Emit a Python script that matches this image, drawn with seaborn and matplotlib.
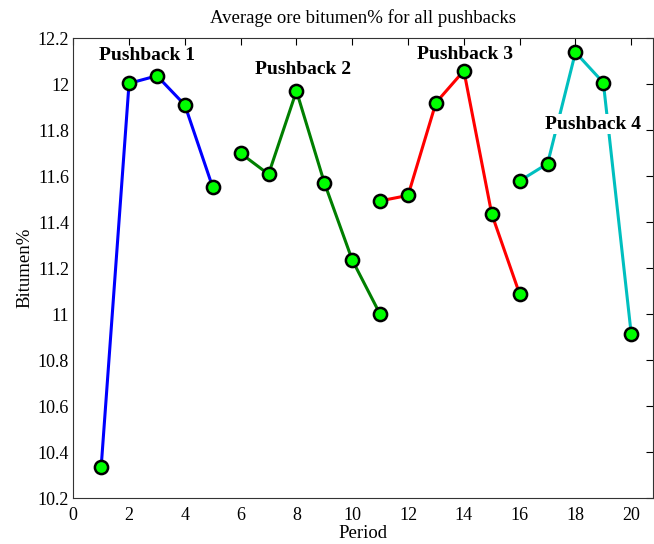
import matplotlib
matplotlib.use("Agg")
import matplotlib.pyplot as plt
import seaborn as sns
import pandas as pd

sns.set_theme(style="white")
plt.rcParams['font.family'] = ['Liberation Serif', 'DejaVu Serif']
plt.rcParams['text.color'] = 'black'
plt.rcParams['axes.labelcolor'] = 'black'
plt.rcParams['xtick.color'] = 'black'
plt.rcParams['ytick.color'] = 'black'

# Data
pb1_period = [1, 2, 3, 4, 5]
pb1_value = [10.335, 12.004, 12.037, 11.910, 11.552]
pb2_period = [6, 7, 8, 9, 10, 11]
pb2_value = [11.700, 11.609, 11.971, 11.572, 11.236, 11.000]
pb3_period = [11, 12, 13, 14, 15, 16]
pb3_value = [11.493, 11.517, 11.920, 12.059, 11.436, 11.088]
pb4_period = [16, 17, 18, 19, 20]
pb4_value = [11.580, 11.655, 12.139, 12.007, 10.913]

labels = ["Pushback 1", "Pushback 2", "Pushback 3", "Pushback 4"]
colors = ["#0000ff", "#007f00", "#ff0000", "#00bfbf"]
label_pos = [(2.65, 12.127), (8.24, 12.065), (14.03, 12.13), (18.62, 11.826)]

xticks = [0, 2, 4, 6, 8, 10, 12, 14, 16, 18, 20]
yticks = [10.2, 10.4, 10.6, 10.8, 11.0, 11.2, 11.4, 11.6, 11.8, 12.0, 12.2]
ytick_labels = ["10.2", "10.4", "10.6", "10.8", "11", "11.2", "11.4", "11.6", "11.8", "12", "12.2"]

series = [(pb1_period, pb1_value), (pb2_period, pb2_value),
          (pb3_period, pb3_value), (pb4_period, pb4_value)]

fig = plt.figure(figsize=(6.54, 5.44), dpi=100)
ax = fig.add_axes([0.112, 0.084, 0.8865, 0.8456])

for (p, v), lab, c in zip(series, labels, colors):
    df = pd.DataFrame({"Period": p, "Bitumen": v})
    sns.lineplot(data=df, x="Period", y="Bitumen", ax=ax, color=c, linewidth=2.2,
                 marker="o", markersize=9.5, markerfacecolor="#00ff00",
                 markeredgecolor="black", markeredgewidth=1.8, zorder=3)

for lab, (x, y) in zip(labels, label_pos):
    bbox = dict(facecolor="white", edgecolor="none", pad=1) if lab == "Pushback 4" else None
    ax.text(x, y, lab, ha="center", va="center", fontsize=14, fontweight="bold",
            color="black", bbox=bbox, zorder=5)

ax.set_xlim(0, 20.78)
ax.set_ylim(10.2, 12.2)
ax.set_xticks(xticks)
ax.set_xticklabels([str(t) for t in xticks])
ax.set_yticks(yticks)
ax.set_yticklabels(ytick_labels)
ax.tick_params(direction="in", length=5, width=0.8, top=True, right=True,
               labelsize=13, pad=3)
ax.tick_params(axis="x", pad=6)
for s in ax.spines.values():
    s.set_color("#333333")
    s.set_linewidth(0.8)
ax.set_xlabel("Period", fontsize=13.5, labelpad=1)
ax.set_ylabel("Bitumen%", fontsize=13.5, labelpad=3)
ax.set_title("Average ore bitumen% for all pushbacks", fontsize=13.5, pad=11)
ax.grid(False)

fig.savefig("out.png", dpi=100)
